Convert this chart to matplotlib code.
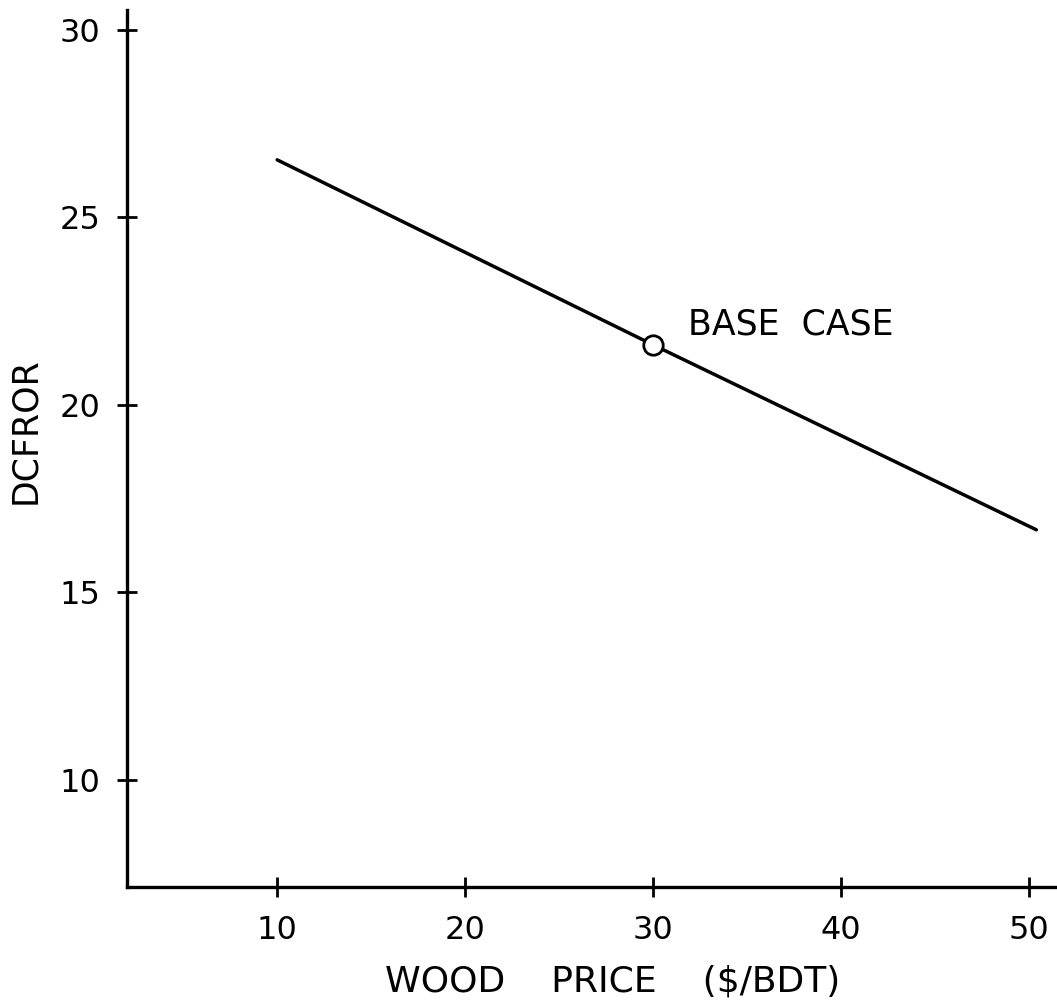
import matplotlib.pyplot as plt

wood_price = [10, 30, 50.4]
dcfror = [26.53, 21.6, 16.67]
base_price = 30
base_dcfror = 21.6
x_ticks = [10, 20, 30, 40, 50]
y_ticks = [10, 15, 20, 25, 30]

plt.rcParams['font.family'] = ['DejaVu Sans']

fig = plt.figure(figsize=(10.57, 10.06), dpi=100)
ax = fig.add_axes([0.120, 0.1183, 0.880, 0.872])

ax.plot(wood_price, dcfror, color='black', linewidth=2.5, solid_capstyle='round')
ax.plot([base_price], [base_dcfror], marker='o', markersize=14, markerfacecolor='white',
        markeredgecolor='black', markeredgewidth=2.0, linestyle='none')
ax.annotate("BASE  CASE", xy=(base_price, base_dcfror), xytext=(35, 20),
            textcoords='offset pixels', fontsize=25, va='center', ha='left')

ax.set_xlim(2.0, 51.5)
ax.set_ylim(7.15, 30.53)
ax.set_xticks(x_ticks)
ax.set_yticks(y_ticks)
ax.tick_params(direction='inout', length=14, width=2, labelsize=23, colors='black')
ax.tick_params(axis='x', pad=13)
ax.tick_params(axis='y', pad=12)

for side in ['top', 'right']:
    ax.spines[side].set_visible(False)
for side in ['left', 'bottom']:
    ax.spines[side].set_linewidth(2.4)

ax.set_xlabel("WOOD    PRICE    ($/BDT)", fontsize=26)
ax.xaxis.set_label_coords(0.5226, -0.088)
ax.set_ylabel("DCFROR", fontsize=25)
ax.yaxis.set_label_coords(-0.0914, 0.52)

fig.savefig("out.png", dpi=100)
